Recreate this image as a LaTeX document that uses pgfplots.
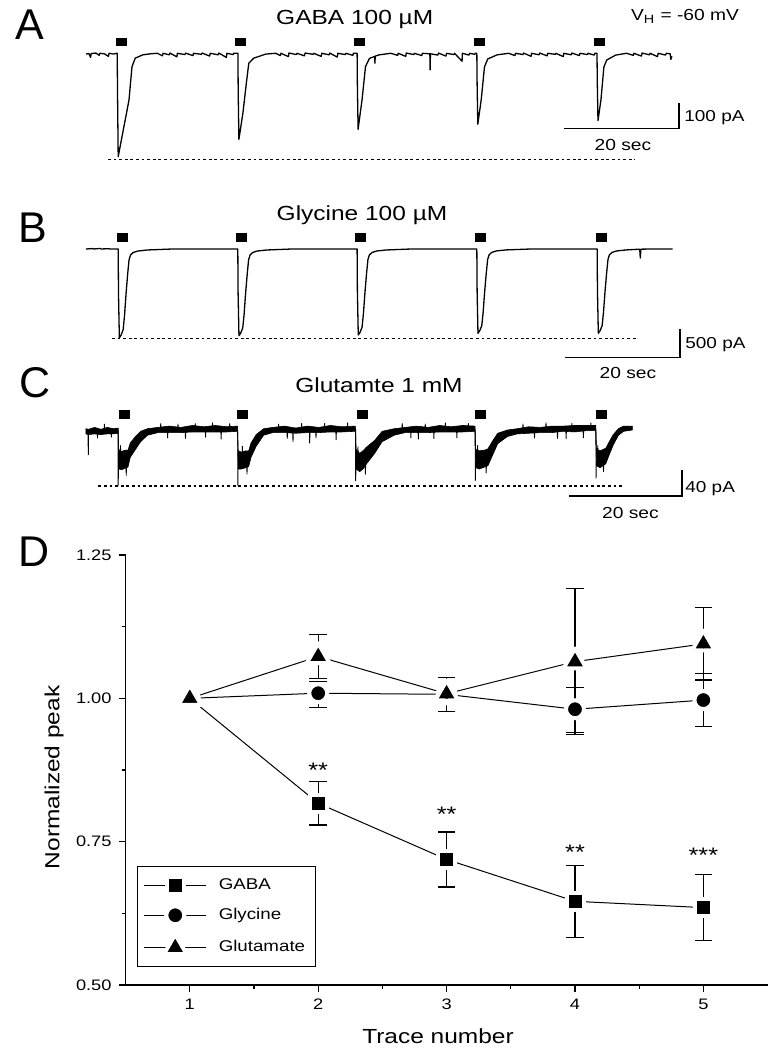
\documentclass[border=0pt]{standalone}
\usepackage{fontspec}
\setmainfont[FakeStretch=1.2]{Liberation Sans}
\newfontfamily\letterfont{Liberation Sans}
\usepackage{pgfplots}
\pgfplotsset{compat=1.18}
\newcommand{\fs}[1]{\fontsize{#1}{#1}\selectfont}
\pgfplotsset{
  trace/.style={hide axis, clip=false, x=2.875pt, xmin=0, xmax=105, anchor=south west},
  tr/.style={black, line width=0.65pt, mark=none, line join=round},
  dsh/.style={black, line width=0.6pt, dash pattern=on 1.4pt off 1.4pt, mark=none},
  sbar/.style={black, line width=0.6pt, mark=none},
  app/.style={only marks, mark=square*, mark size=1.85pt, mark options={xscale=1.35, black, fill=black}},
  myleg/.style={legend image code/.code={\draw[##1, mark repeat=2, mark phase=2] plot coordinates {(0pt,0pt) (15.5pt,0pt) (31pt,0pt)}; \path (35pt,0pt);}},
  ebar/.style={only marks, mark=none, forget plot, error bars/.cd, y dir=both, y explicit,
    error bar style={black, line width=0.6pt},
    error mark options={rotate=90, mark size=4.4pt, line width=0.6pt, black}},
}
\begin{document}
\begin{tikzpicture}
\path[use as bounding box] (0pt,0pt) rectangle (384.5pt,-525pt);

% ---------------- Panel A: GABA ----------------
\begin{axis}[trace, y=0.128pt, ymin=-450, ymax=60, at={(43pt,-84.25pt)}]
\addplot[tr] coordinates {
(0,-3) (0.5,-1) (0.8,-16) (0.9,-1) (1.7,1) (2.3,-8) (2.4,0) (3.2,-2) (3.9,-12) (4.0,0) (4.8,-3) (5.3,0)
(5.43,0) (5.48,-150) (5.6,-404) (6.3,-321) (7.0,-239) (7.48,-182) (8.0,-52) (8.56,-19) (9.88,-6) (11.2,-2) (12.4,0)
(13.3,-10) (13.4,0) (14.5,-6) (14.6,1) (15.8,-14) (15.9,0) (17.2,-5) (17.3,1) (18.6,-9) (18.7,0) (20.1,-4) (20.2,1)
(21.5,-11) (21.6,0) (23.0,-6) (23.1,1) (24.4,-16) (24.5,0) (25.6,-5) (25.7,0)
(26.42,0) (26.47,-150) (26.59,-336) (27.28,-235) (27.88,-118) (28.31,-39) (29.16,-19) (31.3,-3) (33.0,0)
(33.8,-9) (33.9,0) (35.2,-13) (35.3,1) (36.6,-5) (36.7,0) (38.0,-10) (38.1,1) (39.5,-4) (39.6,0) (40.9,-12) (41.0,0)
(42.3,-6) (42.4,1) (43.7,-15) (43.8,0) (45.1,-5) (45.2,0) (46.4,-8) (46.5,0)
(47.15,0) (47.2,-130) (47.32,-297) (48.01,-181) (48.61,-52) (49.29,-20) (50.2,-12) (50.25,-39) (50.3,-11) (51.0,-6) (53.0,0)
(54.2,-8) (54.3,0) (55.6,-12) (55.7,1) (57.0,-5) (57.1,0) (58.4,-9) (58.5,0) (59.8,-2) (59.85,-65) (59.9,-2)
(61.2,-7) (61.3,1) (62.6,-11) (62.7,0) (64.0,-5) (64.1,0) (65.4,-31) (65.45,0) (66.6,-7) (66.7,0) (67.6,-4) (67.7,0)
(67.97,0) (68.02,-120) (68.14,-277) (68.74,-180) (69.3,-53) (69.87,-22) (71.5,-6) (73.5,0)
(74.6,-9) (74.7,0) (76.0,-5) (76.1,1) (77.4,-12) (77.5,0) (78.8,-6) (78.9,1) (80.2,-10) (80.3,0) (81.6,-4) (81.7,0)
(83.0,-13) (83.1,0) (84.4,-6) (84.5,1) (85.8,-9) (85.9,0) (87.2,-5) (87.3,0) (88.4,-7) (88.5,0)
(88.87,0) (88.92,-115) (89.04,-263) (89.56,-181) (90.07,-53) (90.57,-26) (92.12,-7) (94.0,0)
(95.2,-8) (95.3,0) (96.6,-11) (96.7,1) (98.0,-6) (98.1,0) (99.4,-13) (99.5,0) (100.8,-7) (100.9,0) (101.6,-2) (101.7,-24) (101.9,-12)
};
\addplot[dsh] coordinates {(3.83,-414) (95.5,-414)};
\addplot[sbar] coordinates {(83.13,-293) (103.13,-293) (103.13,-193)};
\addplot[app] coordinates {(6.2,44) (26.85,44) (47.6,44) (68.4,44) (89.3,44)};
\end{axis}

% ---------------- Panel B: Glycine ----------------
\begin{axis}[trace, y=0.0284pt, ymin=-2000, ymax=300, at={(43pt,-181.3pt)}]
\addplot[tr] coordinates {
(0,0) (1.2,8) (1.3,0) (2.5,10) (2.6,0) (4.0,6) (4.1,0)
(5.6,0) (5.65,-781) (5.8,-1562) (6.1,-1515) (6.46,-1421) (6.7,-1172) (6.97,-781) (7.25,-437) (7.48,-194) (7.74,-106) (8.2,-62) (9.0,-36) (10.7,-17) (15,0)
(26.4,0) (26.45,-763) (26.6,-1526) (26.9,-1480) (27.26,-1389) (27.5,-1145) (27.77,-763) (28.05,-427) (28.28,-189) (28.54,-104) (29.0,-61) (29.8,-35) (31.5,-17) (35.8,0)
(47.15,0) (47.2,-757) (47.35,-1514) (47.65,-1469) (48.01,-1378) (48.25,-1136) (48.52,-757) (48.8,-424) (49.03,-188) (49.29,-103) (49.75,-61) (50.55,-35) (52.25,-17) (56.55,0)
(67.97,0) (68.02,-742) (68.17,-1484) (68.47,-1439) (68.83,-1350) (69.07,-1113) (69.34,-742) (69.62,-416) (69.85,-184) (70.11,-101) (70.57,-59) (71.37,-34) (73.07,-16) (77.37,0)
(88.9,0) (88.95,-742) (89.1,-1484) (89.4,-1439) (89.76,-1350) (90.0,-1113) (90.27,-742) (90.55,-416) (90.78,-184) (91.04,-101) (91.5,-59) (92.3,-34) (94.0,-16) (96.3,-3) (96.4,-160) (96.5,-3) (98.3,0) (102,0)
};
\addplot[dsh] coordinates {(4.52,-1572) (96.0,-1572)};
\addplot[sbar] coordinates {(83.3,-1914) (103.3,-1914) (103.3,-1414)};
\addplot[app] coordinates {(6.3,206) (27.0,206) (47.8,206) (68.6,206) (89.6,206)};
\end{axis}

% ---------------- Panel C: Glutamate ----------------
\begin{axis}[trace, y=0.325pt, ymin=-110, ymax=40, at={(43pt,-250.75pt)}, unbounded coords=jump]
\addplot[fill=black, draw=black, line width=0.3pt, mark=none] coordinates {
(0,2) (0.4,1) (1.5,4) (2.6,1) (3.7,4) (4.8,2) (5.55,3) (5.6,3) (5.68,-30) (6.2,-33) (6.8,-31) (7.3,-31) (7.7,-20) (8.6,-10) (9.5,-2) (10.7,2)
(12.5,4) (14.5,6) (16.5,4) (18.5,7) (20.5,5) (22.5,7) (24.5,5) (26.35,6) (26.48,-32) (27.0,-34) (27.8,-32) (28.3,-32) (28.7,-20) (29.6,-7) (30.9,2)
(32.5,4) (34.5,6) (36.5,3) (38.5,6) (40.5,4) (42.5,7) (44.5,5) (46.85,6) (46.98,-30) (47.6,-36) (48.3,-31) (48.7,-27) (50.2,-16) (51.5,-2) (53.6,2)
(55.5,4) (57.5,6) (59.5,4) (61.5,7) (63.5,5) (65.5,7) (67.65,6) (67.78,-30) (68.4,-32) (69.3,-31) (69.9,-29) (70.7,-17) (71.6,-5) (73.3,0)
(75.0,2) (77.0,5) (79.0,4) (81.0,6) (83.0,6) (85.0,7) (87.0,7) (88.65,7) (88.78,-29) (89.4,-32) (90.4,-28) (91.0,-18) (91.7,-7) (92.6,2) (93.5,6) (95.0,6)
(95.0,0) (93.5,-2) (92.6,-8) (91.7,-23) (91.0,-38) (90.4,-52) (89.4,-58) (88.78,-55) (88.65,-1) (87.0,-1) (85.0,-3) (83.0,-2) (81.0,-4) (79.0,-4)
(77.0,-5) (75.0,-6) (73.3,-10) (71.6,-21) (70.7,-39) (69.9,-55) (69.3,-57) (68.4,-60) (67.78,-58) (67.65,-2) (65.5,-3) (63.5,-3) (61.5,-3) (59.5,-4)
(57.5,-4) (55.5,-4) (53.6,-8) (51.5,-18) (50.2,-36) (48.7,-53) (48.3,-59) (47.6,-64) (46.98,-60) (46.85,-2) (44.5,-3) (42.5,-3) (40.5,-4) (38.5,-4)
(36.5,-5) (34.5,-4) (32.5,-4) (30.9,-8) (29.6,-25) (28.7,-42) (28.3,-56) (27.8,-58) (27.0,-60) (26.48,-60) (26.35,-2) (24.5,-3) (22.5,-3) (20.5,-3)
(18.5,-3) (16.5,-4) (14.5,-4) (12.5,-4) (10.7,-8) (9.5,-18) (8.6,-30) (7.7,-42) (7.3,-57) (6.8,-59) (6.2,-61) (5.68,-60) (5.6,-5) (5.55,-5)
(4.8,-6) (3.7,-6) (2.6,-7) (1.5,-6) (0.4,-7) (0,-6)
} -- cycle;
\addplot[tr, line width=0.45pt] coordinates {
(0.35,-2) (0.4,-38) (0.45,-3) (0.46,nan)
(5.58,-1) (5.6,-85) (5.66,-50) (5.67,nan)
(26.38,1) (26.4,-85) (26.46,-50) (26.47,nan)
(46.88,1) (46.9,-78) (46.96,-50) (46.97,nan)
(67.68,1) (67.7,-78) (67.76,-50) (67.77,nan)
(88.68,1) (88.7,-74) (88.76,-48) (88.77,nan)
(1.95,0) (2.0,-12) (2.05,0) (2.06,nan) (3.15,0) (3.2,9) (3.25,0) (3.26,nan) (4.35,0) (4.4,-11) (4.45,0) (4.46,nan)
(5.95,-45) (6.0,-24) (6.05,-45) (6.06,nan) (6.95,-45) (7.0,-70) (7.05,-45) (7.06,nan)
(12.95,0) (13.0,10) (13.05,0) (13.06,nan) (14.15,0) (14.2,-12) (14.25,0) (14.26,nan) (15.95,0) (16.0,9) (16.05,0) (16.06,nan)
(17.25,0) (17.3,-13) (17.35,0) (17.36,nan) (18.95,0) (19.0,10) (19.05,0) (19.06,nan) (20.75,0) (20.8,-11) (20.85,0) (20.86,nan)
(21.95,0) (22.0,11) (22.05,0) (22.06,nan) (23.45,0) (23.5,-14) (23.55,0) (23.56,nan) (24.95,0) (25.0,10) (25.05,0) (25.06,nan)
(27.15,-45) (27.2,-25) (27.25,-45) (27.26,nan) (27.95,-45) (28.0,-68) (28.05,-45) (28.06,nan)
(33.45,0) (33.5,9) (33.55,0) (33.56,nan) (34.95,0) (35.0,-13) (35.05,0) (35.06,nan) (35.95,0) (36.0,-18) (36.05,0) (36.06,nan)
(37.45,0) (37.5,10) (37.55,0) (37.56,nan) (38.85,0) (38.9,-20) (38.95,0) (38.96,nan) (39.95,0) (40.0,-12) (40.05,0) (40.06,nan)
(41.45,0) (41.5,10) (41.55,0) (41.56,nan) (43.45,0) (43.5,-15) (43.55,0) (43.56,nan) (45.45,0) (45.5,11) (45.55,0) (45.56,nan)
(47.25,-45) (47.3,-26) (47.35,-45) (47.36,nan) (48.55,-45) (48.6,-68) (48.65,-45) (48.66,nan)
(54.95,0) (55.0,10) (55.05,0) (55.06,nan) (56.45,0) (56.5,-12) (56.55,0) (56.56,nan) (57.75,0) (57.8,-14) (57.85,0) (57.86,nan)
(58.95,0) (59.0,9) (59.05,0) (59.06,nan) (60.45,0) (60.5,-13) (60.55,0) (60.56,nan) (62.45,0) (62.5,11) (62.55,0) (62.56,nan)
(64.45,0) (64.5,-12) (64.55,0) (64.56,nan) (66.45,0) (66.5,10) (66.55,0) (66.56,nan)
(68.05,-45) (68.1,-24) (68.15,-45) (68.16,nan) (69.55,-45) (69.6,-66) (69.65,-45) (69.66,nan)
(75.95,0) (76.0,9) (76.05,0) (76.06,nan) (77.95,0) (78.0,-12) (78.05,0) (78.06,nan) (79.95,0) (80.0,11) (80.05,0) (80.06,nan)
(81.95,0) (82.0,-13) (82.05,0) (82.06,nan) (83.45,0) (83.5,-13) (83.55,0) (83.56,nan) (84.45,0) (84.5,10) (84.55,0) (84.56,nan)
(86.45,0) (86.5,-12) (86.55,0) (86.56,nan) (87.75,0) (87.8,11) (87.85,0) (87.86,nan)
(88.95,-45) (89.0,-24) (89.05,-45) (89.06,nan) (89.95,-45) (90.0,-64) (90.05,-45)
};
\addplot[dsh] coordinates {(2.17,-86) (93.4,-86)};
\addplot[sbar] coordinates {(84.0,-101.5) (103.65,-101.5) (103.65,-61.5)};
\addplot[app] coordinates {(6.6,24) (27.2,24) (48.0,24) (68.6,24) (89.7,24)};
\end{axis}

% ---------------- Panel D ----------------
\begin{axis}[
  at={(62.8pt,-492.5pt)}, anchor=south west,
  scale only axis, width=321pt, height=215pt,
  xmin=0.5, xmax=5.5, ymin=0.5, ymax=1.25,
  axis x line*=bottom, axis y line*=left,
  axis line style={line width=0.6pt, -},
  x axis line style={-}, y axis line style={-},
  xtick={1,2,3,4,5}, xticklabels={1,2,3,4,5},
  ytick={0.5,0.75,1,1.25}, yticklabels={0.50,0.75,1.00,1.25},
  minor x tick num=1, minor y tick num=1,
  tick align=outside,
  major tick length=3.5pt, minor tick length=2pt,
  tick style={black, line width=0.6pt},
  tick label style={font=\fs{7.6}},
  xlabel={Trace number}, ylabel={Normalized peak},
  label style={font=\fs{10.2}},
  xlabel style={at={(axis description cs:0.4866,-0.1202)}, anchor=center},
  ylabel style={at={(axis description cs:-0.1115,0.483)}, anchor=center},
  clip=false,
  legend cell align=left,
  legend style={at={(0.018,0.041)}, anchor=south west, draw=black, line width=0.6pt,
    font=\fs{7.8}, inner xsep=3pt, inner ysep=4pt, row sep=4pt},
]
\addplot[black, line width=0.5pt, mark=square*, mark size=4.25pt,
  mark options={fill=black, draw=white, line width=2pt}, myleg]
  coordinates {(1,1.000) (2,0.817) (3,0.719) (4,0.646) (5,0.635)};
\addlegendentry{GABA}
\addplot[black, line width=0.5pt, mark=*, mark size=4.5pt,
  mark options={fill=black, draw=white, line width=2pt}, myleg]
  coordinates {(1,1.000) (2,1.009) (3,1.007) (4,0.981) (5,0.997)};
\addlegendentry{Glycine}
\addplot[black, line width=0.5pt, mark=triangle*, mark size=6.6pt,
  mark options={fill=black, draw=white, line width=2pt, line join=round}, myleg]
  coordinates {(1,1.000) (2,1.073) (3,1.008) (4,1.064) (5,1.095)};
\addlegendentry{Glutamate}
% error bars
\addplot[ebar] coordinates {(2,0.817) +- (0,0.038) (3,0.719) +- (0,0.048) (4,0.646) +- (0,0.063) (5,0.635) +- (0,0.058)};
\addplot[ebar] coordinates {(2,1.009) += (0,0.020) -= (0,0.025) (3,1.007) +- (0,0.030) (4,0.981) += (0,0.038) -= (0,0.041) (5,0.997) +- (0,0.046)};
\addplot[ebar] coordinates {(2,1.073) +- (0,0.038) (3,1.008) +- (0,0.010) (4,1.064) +- (0,0.127) (5,1.095) +- (0,0.063)};
\node[font=\fs{10.5}] at (axis cs:2,0.874) {**};
\node[font=\fs{10.5}] at (axis cs:3,0.797) {**};
\node[font=\fs{10.5}] at (axis cs:4,0.731) {**};
\node[font=\fs{10.5}] at (axis cs:5,0.727) {***};
\end{axis}

% ---------------- Text ----------------
\begin{scope}[x=0.5pt,y=-0.5pt]
\node[font=\letterfont\fs{21.5}] at (30.3,24.7) {A};
\node[font=\letterfont\fs{21.5}] at (33,228) {B};
\node[font=\letterfont\fs{21.5}] at (35.5,383) {C};
\node[font=\letterfont\fs{21.5}] at (34.5,552) {D};
\node[font=\fs{10.2}] at (354.7,19.7) {GABA 100 µM};
\node[font=\fs{10.2}] at (362,215) {Glycine 100 µM};
\node[font=\fs{10.2}] at (379,385) {Glutamte 1 mM};
\node[font=\fs{8}] at (685,16.7) {V\textsubscript{H} = -60 mV};
\node[font=\fs{7.9}, anchor=west, inner sep=0pt] at (684,117.3) {100 pA};
\node[font=\fs{8}] at (623,145) {20 sec};
\node[font=\fs{7.9}, anchor=west, inner sep=0pt] at (685,345) {500 pA};
\node[font=\fs{8}] at (628,373.3) {20 sec};
\node[font=\fs{7.9}, anchor=west, inner sep=0pt] at (685,488.3) {40 pA};
\node[font=\fs{8}] at (630.5,513.3) {20 sec};
\end{scope}
\end{tikzpicture}
\end{document}
